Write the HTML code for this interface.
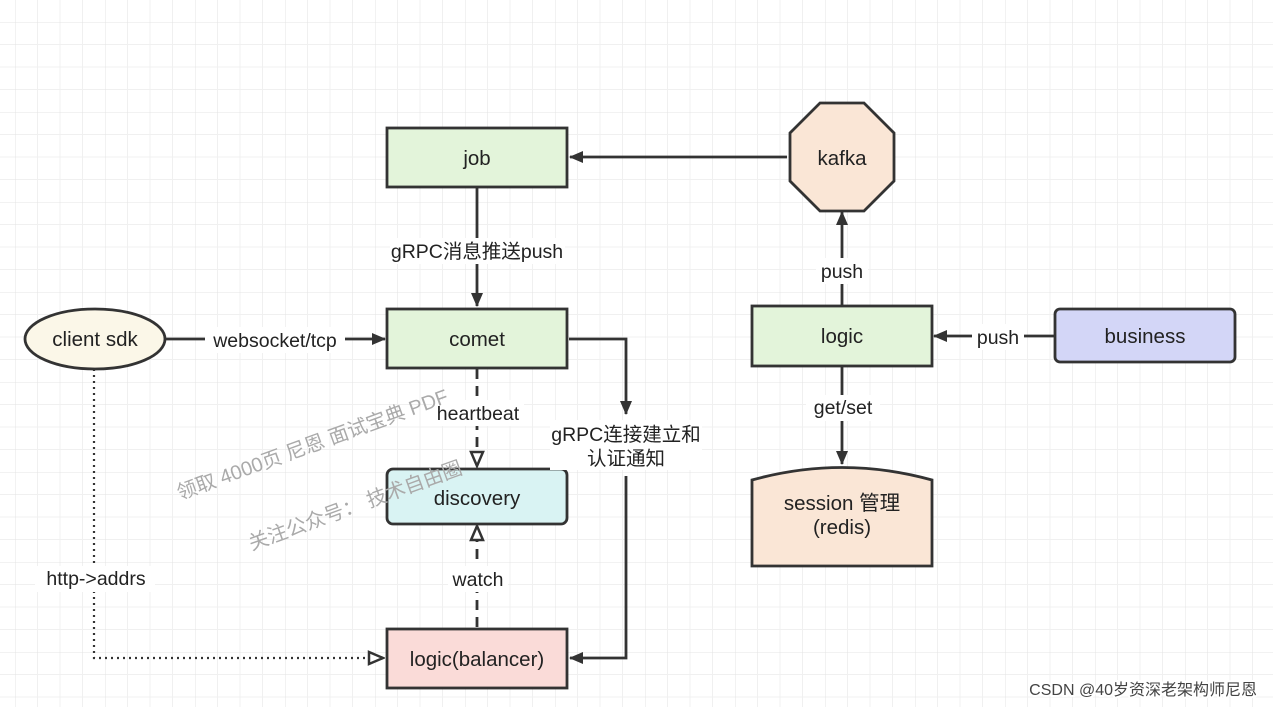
<!DOCTYPE html>
<html><head><meta charset="utf-8"><style>
html,body{margin:0;padding:0;background:#fff}
svg{display:block}
text{font-family:"Liberation Sans","Noto Sans CJK SC",sans-serif;fill:#222}
</style></head><body>
<svg width="1273" height="707" viewBox="0 0 1273 707" xmlns="http://www.w3.org/2000/svg">
<defs>
<pattern id="g" x="15" y="22" width="90" height="90" patternUnits="userSpaceOnUse">
<path d="M22.5 0V90M45 0V90M67.5 0V90M0 22.5H90M0 45H90M0 67.5H90" stroke="#f0f0f0" stroke-width="1" fill="none"/>
<path d="M0 0V90M0 0H90" stroke="#e4e4e4" stroke-width="1" fill="none"/>
</pattern>
<marker id="a" markerWidth="14" markerHeight="14" refX="13" refY="7" orient="auto" markerUnits="userSpaceOnUse"><path d="M0 1L14 7L0 13z" fill="#333"/></marker>
<marker id="o" markerWidth="18" markerHeight="16" refX="16" refY="8" orient="auto" markerUnits="userSpaceOnUse"><path d="M2 2L16 8L2 14z" fill="#fff" stroke="#333" stroke-width="2.5"/></marker>
</defs>
<rect width="1273" height="707" fill="url(#g)"/>
<g stroke="#333" stroke-width="2.8" fill="none">
<path d="M787 157H570" marker-end="url(#a)"/>
<path d="M477 187V306" marker-end="url(#a)"/>
<path d="M166 339H385" marker-end="url(#a)"/>
<path d="M569 339H626V414" marker-end="url(#a)"/>
<path d="M626 476V658H570" marker-end="url(#a)"/>
<path d="M477 369V466" stroke-dasharray="10 7" marker-end="url(#o)"/>
<path d="M477 627V526" stroke-dasharray="10 7" marker-end="url(#o)"/>
<path d="M94 369V658H383" stroke-dasharray="2 4" stroke-width="2.2" marker-end="url(#o)"/>
<path d="M842 306V212" marker-end="url(#a)"/>
<path d="M1054 336H934" marker-end="url(#a)"/>
<path d="M842 366V464" marker-end="url(#a)"/>
</g>
<g stroke="#333" stroke-width="2.8">
<rect x="387" y="128" width="180" height="59" fill="#e3f4da"/>
<rect x="387" y="309" width="180" height="59" fill="#e3f4da"/>
<rect x="387" y="469" width="180" height="55" rx="6" fill="#d9f3f3"/>
<rect x="387" y="629" width="180" height="59" fill="#fadbd8"/>
<rect x="752" y="306" width="180" height="60" fill="#e3f4da"/>
<rect x="1055" y="309" width="180" height="53" rx="5" fill="#d3d6f7"/>
<ellipse cx="95" cy="339" rx="70" ry="30" fill="#fbf7e8"/>
<polygon points="820,103 864,103 894,133 894,181 864,211 820,211 790,181 790,133" fill="#fae6d6"/>
<path d="M752 566V480Q842 455 932 480V566Z" fill="#fae6d6"/>
</g>
<g font-size="20.5" text-anchor="middle">
<text x="477" y="165">job</text>
<text x="477" y="346">comet</text>
<text x="477" y="505">discovery</text>
<text x="477" y="666">logic(balancer)</text>
<text x="842" y="343">logic</text>
<text x="1145" y="343">business</text>
<text x="95" y="346">client sdk</text>
<text x="842" y="165">kafka</text>
<text x="842" y="510">session 管理</text>
<text x="842" y="534">(redis)</text>
</g>
<g font-size="19.5" text-anchor="middle">
<rect x="390" y="238" width="175" height="26" fill="#fff"/><text x="477" y="258">gRPC消息推送push</text>
<rect x="205" y="327" width="140" height="26" fill="#fff"/><text x="275" y="347">websocket/tcp</text>
<rect x="432" y="400" width="92" height="26" fill="#fff"/><text x="478" y="420">heartbeat</text>
<rect x="550" y="420" width="152" height="50" fill="#fff"/><text x="626" y="441">gRPC连接建立和</text><text x="626" y="465">认证通知</text>
<rect x="448" y="566" width="60" height="26" fill="#fff"/><text x="478" y="586">watch</text>
<rect x="35" y="566" width="120" height="26" fill="#fff"/><text x="96" y="585">http-&gt;addrs</text>
<rect x="816" y="258" width="52" height="26" fill="#fff"/><text x="842" y="278">push</text>
<rect x="972" y="324" width="52" height="26" fill="#fff"/><text x="998" y="344">push</text>
<rect x="806" y="395" width="74" height="26" fill="#fff"/><text x="843" y="414">get/set</text>
</g>
<g font-size="20" transform="rotate(-20 180 500)">
<text x="180" y="500" style="fill:#aaa">领取 4000页 尼恩 面试宝典 PDF</text>
<text x="230" y="572" style="fill:#aaa">关注公众号：  技术自由圈</text>
</g>
<text x="1257" y="695" font-size="16" text-anchor="end" style="fill:#fff;stroke:#fff;stroke-width:4">CSDN @40岁资深老架构师尼恩</text>
<text x="1257" y="695" font-size="16" text-anchor="end" style="fill:#444">CSDN @40岁资深老架构师尼恩</text>
</svg>
</body></html>
